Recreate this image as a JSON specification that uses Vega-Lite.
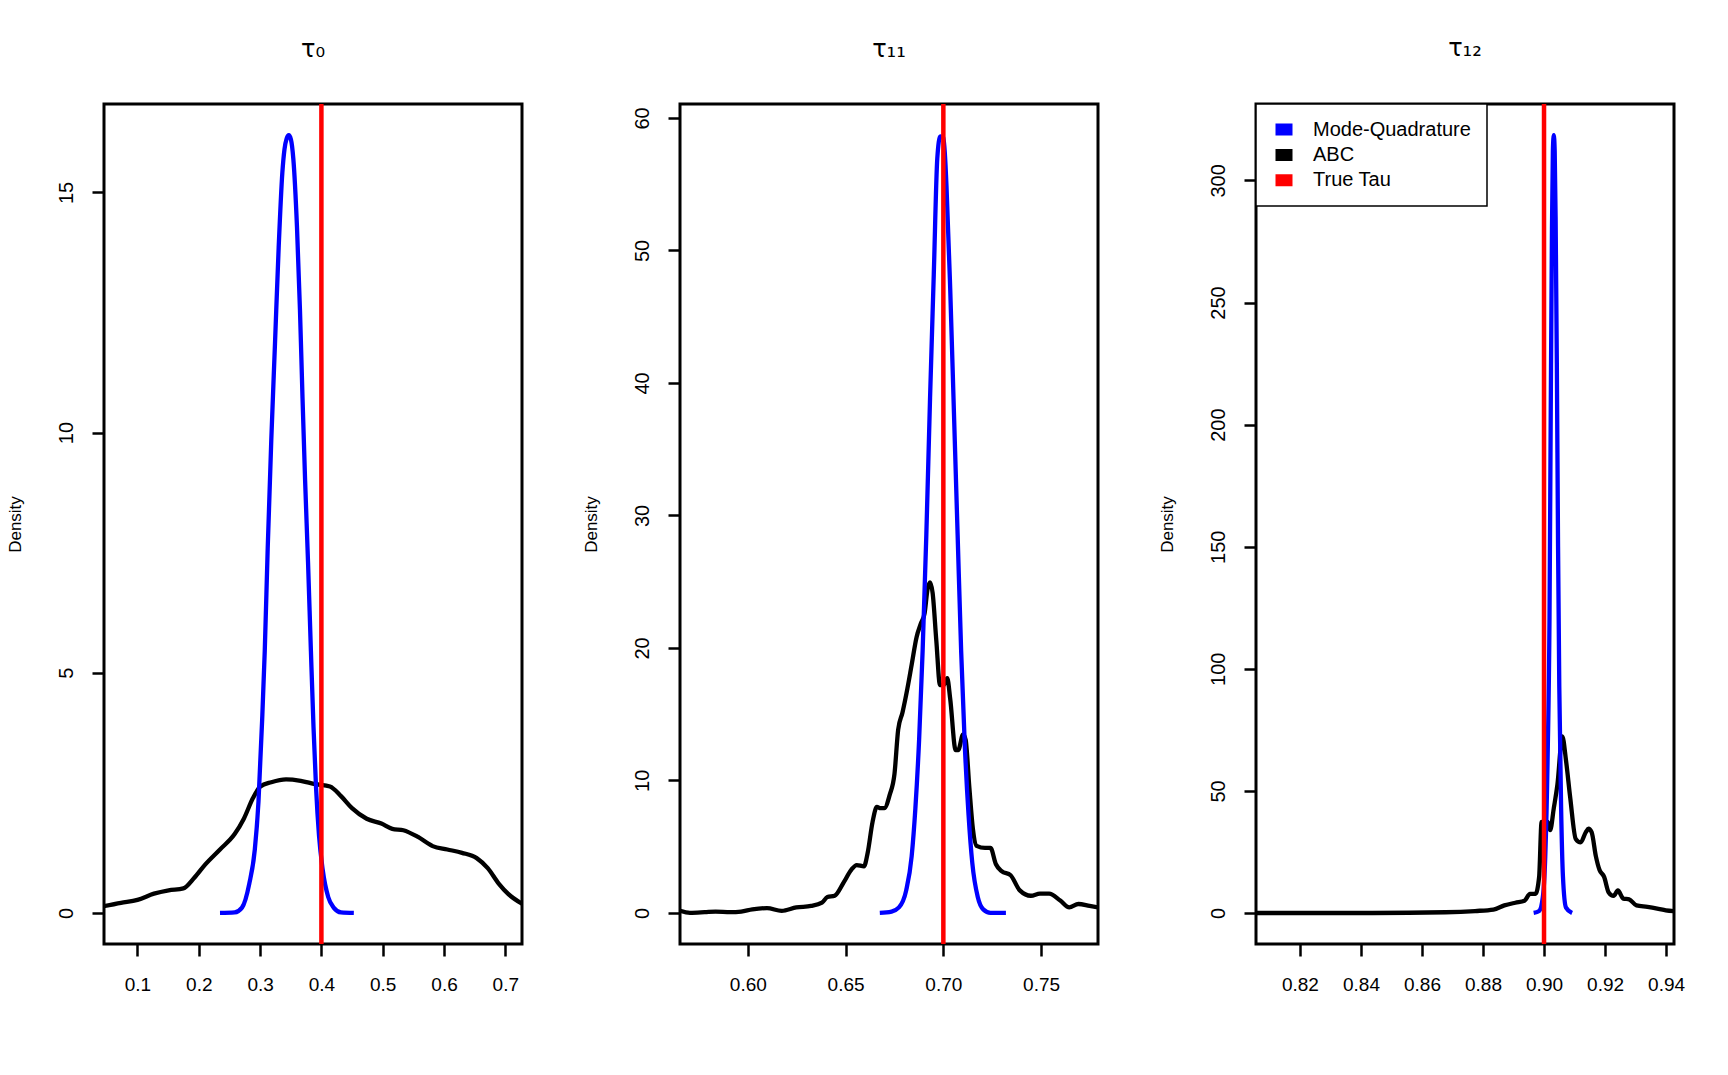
{
  "$schema": "https://vega.github.io/schema/vega-lite/v6.json",
  "padding": {"left": 4, "top": 35, "right": 5, "bottom": 5},
  "background": "white",
  "bounds": "flush",
  "spacing": 158,
  "resolve": {"scale": {"color": "independent"}, "legend": {"color": "independent"}},
  "config": {
    "font": "Liberation Sans",
    "view": {"stroke": "black", "strokeWidth": 3},
    "axis": {"domain": false, "grid": false, "tickColor": "black", "tickWidth": 2.5, "tickSize": 12, "labelColor": "black", "labelFont": "Liberation Sans", "labelFontSize": 19, "titleFont": "Liberation Sans", "titleFontSize": 17, "titleFontWeight": "normal", "titleColor": "black"},
    "axisX": {"labelPadding": 19, "labelFlush": false, "labelOverlap": false},
    "axisY": {"labelAngle": -90, "labelAlign": "center", "labelBaseline": "bottom", "labelPadding": 16, "titlePadding": 32, "labelFontSize": 20},
    "title": {"font": "DejaVu Sans", "fontSize": 24, "fontWeight": "normal", "color": "black", "baseline": "alphabetic", "offset": 42, "anchor": "middle"},
    "legend": {"strokeColor": "black", "strokeWidth": 1.5, "fillColor": "white", "padding": 15.5, "symbolOffset": 2.5, "labelOffset": 19, "rowPadding": 5.4, "clipHeight": 20, "labelFontSize": 20, "labelFont": "Liberation Sans", "labelColor": "black", "labelLimit": 400, "symbolType": "M-1,-0.444H1V0.444H-1Z", "symbolStrokeWidth": 8, "symbolSize": 81}
  },
  "datasets": {
    "curves": [
      {"panel": "t0", "series": "Mode-Quadrature", "x": 0.2346, "y": 0},
      {"panel": "t0", "series": "Mode-Quadrature", "x": 0.2585, "y": 0.01},
      {"panel": "t0", "series": "Mode-Quadrature", "x": 0.2705, "y": 0.11},
      {"panel": "t0", "series": "Mode-Quadrature", "x": 0.2824, "y": 0.61},
      {"panel": "t0", "series": "Mode-Quadrature", "x": 0.2914, "y": 1.32},
      {"panel": "t0", "series": "Mode-Quadrature", "x": 0.2974, "y": 2.32},
      {"panel": "t0", "series": "Mode-Quadrature", "x": 0.3034, "y": 4.03},
      {"panel": "t0", "series": "Mode-Quadrature", "x": 0.3076, "y": 5.45},
      {"panel": "t0", "series": "Mode-Quadrature", "x": 0.3124, "y": 7.58},
      {"panel": "t0", "series": "Mode-Quadrature", "x": 0.3183, "y": 9.86},
      {"panel": "t0", "series": "Mode-Quadrature", "x": 0.3243, "y": 11.85},
      {"panel": "t0", "series": "Mode-Quadrature", "x": 0.3303, "y": 13.85},
      {"panel": "t0", "series": "Mode-Quadrature", "x": 0.3363, "y": 15.41},
      {"panel": "t0", "series": "Mode-Quadrature", "x": 0.3398, "y": 15.9},
      {"panel": "t0", "series": "Mode-Quadrature", "x": 0.3433, "y": 16.12},
      {"panel": "t0", "series": "Mode-Quadrature", "x": 0.3468, "y": 16.19},
      {"panel": "t0", "series": "Mode-Quadrature", "x": 0.3503, "y": 16.1},
      {"panel": "t0", "series": "Mode-Quadrature", "x": 0.3542, "y": 15.7},
      {"panel": "t0", "series": "Mode-Quadrature", "x": 0.3602, "y": 14.27},
      {"panel": "t0", "series": "Mode-Quadrature", "x": 0.365, "y": 12.57},
      {"panel": "t0", "series": "Mode-Quadrature", "x": 0.3692, "y": 10.72},
      {"panel": "t0", "series": "Mode-Quadrature", "x": 0.3734, "y": 9.01},
      {"panel": "t0", "series": "Mode-Quadrature", "x": 0.3782, "y": 7.3},
      {"panel": "t0", "series": "Mode-Quadrature", "x": 0.3829, "y": 5.45},
      {"panel": "t0", "series": "Mode-Quadrature", "x": 0.3871, "y": 3.88},
      {"panel": "t0", "series": "Mode-Quadrature", "x": 0.3913, "y": 2.6},
      {"panel": "t0", "series": "Mode-Quadrature", "x": 0.3961, "y": 1.61},
      {"panel": "t0", "series": "Mode-Quadrature", "x": 0.4021, "y": 0.9},
      {"panel": "t0", "series": "Mode-Quadrature", "x": 0.4111, "y": 0.33},
      {"panel": "t0", "series": "Mode-Quadrature", "x": 0.42, "y": 0.11},
      {"panel": "t0", "series": "Mode-Quadrature", "x": 0.432, "y": 0.01},
      {"panel": "t0", "series": "Mode-Quadrature", "x": 0.4529, "y": 0},
      {"panel": "t0", "series": "ABC", "x": 0.045, "y": 0.14},
      {"panel": "t0", "series": "ABC", "x": 0.0731, "y": 0.21},
      {"panel": "t0", "series": "ABC", "x": 0.1, "y": 0.27},
      {"panel": "t0", "series": "ABC", "x": 0.1269, "y": 0.4},
      {"panel": "t0", "series": "ABC", "x": 0.1508, "y": 0.47},
      {"panel": "t0", "series": "ABC", "x": 0.1748, "y": 0.51},
      {"panel": "t0", "series": "ABC", "x": 0.1927, "y": 0.73},
      {"panel": "t0", "series": "ABC", "x": 0.2107, "y": 1.01},
      {"panel": "t0", "series": "ABC", "x": 0.2346, "y": 1.32},
      {"panel": "t0", "series": "ABC", "x": 0.2585, "y": 1.64},
      {"panel": "t0", "series": "ABC", "x": 0.2735, "y": 1.96},
      {"panel": "t0", "series": "ABC", "x": 0.2884, "y": 2.39},
      {"panel": "t0", "series": "ABC", "x": 0.3004, "y": 2.63},
      {"panel": "t0", "series": "ABC", "x": 0.3183, "y": 2.72},
      {"panel": "t0", "series": "ABC", "x": 0.3423, "y": 2.78},
      {"panel": "t0", "series": "ABC", "x": 0.3662, "y": 2.75},
      {"panel": "t0", "series": "ABC", "x": 0.3901, "y": 2.68},
      {"panel": "t0", "series": "ABC", "x": 0.414, "y": 2.63},
      {"panel": "t0", "series": "ABC", "x": 0.432, "y": 2.43},
      {"panel": "t0", "series": "ABC", "x": 0.4499, "y": 2.18},
      {"panel": "t0", "series": "ABC", "x": 0.4739, "y": 1.96},
      {"panel": "t0", "series": "ABC", "x": 0.4978, "y": 1.86},
      {"panel": "t0", "series": "ABC", "x": 0.5157, "y": 1.75},
      {"panel": "t0", "series": "ABC", "x": 0.5337, "y": 1.72},
      {"panel": "t0", "series": "ABC", "x": 0.5576, "y": 1.58},
      {"panel": "t0", "series": "ABC", "x": 0.5815, "y": 1.39},
      {"panel": "t0", "series": "ABC", "x": 0.6055, "y": 1.32},
      {"panel": "t0", "series": "ABC", "x": 0.6294, "y": 1.25},
      {"panel": "t0", "series": "ABC", "x": 0.6533, "y": 1.14},
      {"panel": "t0", "series": "ABC", "x": 0.6713, "y": 0.93},
      {"panel": "t0", "series": "ABC", "x": 0.6892, "y": 0.61},
      {"panel": "t0", "series": "ABC", "x": 0.7042, "y": 0.4},
      {"panel": "t0", "series": "ABC", "x": 0.7272, "y": 0.19},

      {"panel": "t11", "series": "Mode-Quadrature", "x": 0.6675, "y": 0},
      {"panel": "t11", "series": "Mode-Quadrature", "x": 0.6735, "y": 0.1},
      {"panel": "t11", "series": "Mode-Quadrature", "x": 0.6773, "y": 0.41},
      {"panel": "t11", "series": "Mode-Quadrature", "x": 0.681, "y": 1.7},
      {"panel": "t11", "series": "Mode-Quadrature", "x": 0.6838, "y": 4.28},
      {"panel": "t11", "series": "Mode-Quadrature", "x": 0.6857, "y": 7.9},
      {"panel": "t11", "series": "Mode-Quadrature", "x": 0.6876, "y": 13.06},
      {"panel": "t11", "series": "Mode-Quadrature", "x": 0.6894, "y": 19.77},
      {"panel": "t11", "series": "Mode-Quadrature", "x": 0.6913, "y": 28.55},
      {"panel": "t11", "series": "Mode-Quadrature", "x": 0.6932, "y": 38.87},
      {"panel": "t11", "series": "Mode-Quadrature", "x": 0.6951, "y": 48.17},
      {"panel": "t11", "series": "Mode-Quadrature", "x": 0.6969, "y": 56.94},
      {"panel": "t11", "series": "Mode-Quadrature", "x": 0.6984, "y": 58.6},
      {"panel": "t11", "series": "Mode-Quadrature", "x": 0.7001, "y": 58.49},
      {"panel": "t11", "series": "Mode-Quadrature", "x": 0.7016, "y": 54.88},
      {"panel": "t11", "series": "Mode-Quadrature", "x": 0.7035, "y": 47.13},
      {"panel": "t11", "series": "Mode-Quadrature", "x": 0.7054, "y": 37.84},
      {"panel": "t11", "series": "Mode-Quadrature", "x": 0.7073, "y": 28.55},
      {"panel": "t11", "series": "Mode-Quadrature", "x": 0.7091, "y": 19.77},
      {"panel": "t11", "series": "Mode-Quadrature", "x": 0.711, "y": 12.55},
      {"panel": "t11", "series": "Mode-Quadrature", "x": 0.7129, "y": 7.38},
      {"panel": "t11", "series": "Mode-Quadrature", "x": 0.7148, "y": 3.77},
      {"panel": "t11", "series": "Mode-Quadrature", "x": 0.7176, "y": 1.19},
      {"panel": "t11", "series": "Mode-Quadrature", "x": 0.7204, "y": 0.26},
      {"panel": "t11", "series": "Mode-Quadrature", "x": 0.7241, "y": 0},
      {"panel": "t11", "series": "Mode-Quadrature", "x": 0.732, "y": 0},
      {"panel": "t11", "series": "ABC", "x": 0.5653, "y": 0.15},
      {"panel": "t11", "series": "ABC", "x": 0.5704, "y": 0},
      {"panel": "t11", "series": "ABC", "x": 0.5779, "y": 0.05},
      {"panel": "t11", "series": "ABC", "x": 0.5835, "y": 0.1},
      {"panel": "t11", "series": "ABC", "x": 0.591, "y": 0.05},
      {"panel": "t11", "series": "ABC", "x": 0.5966, "y": 0.1},
      {"panel": "t11", "series": "ABC", "x": 0.6023, "y": 0.26},
      {"panel": "t11", "series": "ABC", "x": 0.6098, "y": 0.36},
      {"panel": "t11", "series": "ABC", "x": 0.6173, "y": 0.15},
      {"panel": "t11", "series": "ABC", "x": 0.6248, "y": 0.41},
      {"panel": "t11", "series": "ABC", "x": 0.6323, "y": 0.52},
      {"panel": "t11", "series": "ABC", "x": 0.6379, "y": 0.77},
      {"panel": "t11", "series": "ABC", "x": 0.6407, "y": 1.19},
      {"panel": "t11", "series": "ABC", "x": 0.6444, "y": 1.29},
      {"panel": "t11", "series": "ABC", "x": 0.6491, "y": 2.32},
      {"panel": "t11", "series": "ABC", "x": 0.6529, "y": 3.25},
      {"panel": "t11", "series": "ABC", "x": 0.6557, "y": 3.61},
      {"panel": "t11", "series": "ABC", "x": 0.6594, "y": 3.51},
      {"panel": "t11", "series": "ABC", "x": 0.6613, "y": 4.54},
      {"panel": "t11", "series": "ABC", "x": 0.6638, "y": 6.87},
      {"panel": "t11", "series": "ABC", "x": 0.666, "y": 8.0},
      {"panel": "t11", "series": "ABC", "x": 0.6679, "y": 7.9},
      {"panel": "t11", "series": "ABC", "x": 0.6698, "y": 7.9},
      {"panel": "t11", "series": "ABC", "x": 0.6726, "y": 8.93},
      {"panel": "t11", "series": "ABC", "x": 0.675, "y": 10.48},
      {"panel": "t11", "series": "ABC", "x": 0.6769, "y": 13.84},
      {"panel": "t11", "series": "ABC", "x": 0.6791, "y": 15.13},
      {"panel": "t11", "series": "ABC", "x": 0.6816, "y": 16.93},
      {"panel": "t11", "series": "ABC", "x": 0.6838, "y": 18.74},
      {"panel": "t11", "series": "ABC", "x": 0.6863, "y": 20.81},
      {"panel": "t11", "series": "ABC", "x": 0.6885, "y": 21.84},
      {"panel": "t11", "series": "ABC", "x": 0.6904, "y": 22.61},
      {"panel": "t11", "series": "ABC", "x": 0.6919, "y": 24.42},
      {"panel": "t11", "series": "ABC", "x": 0.6932, "y": 24.94},
      {"panel": "t11", "series": "ABC", "x": 0.6945, "y": 24.16},
      {"panel": "t11", "series": "ABC", "x": 0.6964, "y": 20.55},
      {"panel": "t11", "series": "ABC", "x": 0.6983, "y": 17.19},
      {"panel": "t11", "series": "ABC", "x": 0.7001, "y": 17.19},
      {"panel": "t11", "series": "ABC", "x": 0.702, "y": 17.71},
      {"panel": "t11", "series": "ABC", "x": 0.7035, "y": 16.16},
      {"panel": "t11", "series": "ABC", "x": 0.7063, "y": 12.29},
      {"panel": "t11", "series": "ABC", "x": 0.7076, "y": 12.29},
      {"panel": "t11", "series": "ABC", "x": 0.7101, "y": 13.47},
      {"panel": "t11", "series": "ABC", "x": 0.7114, "y": 13.06},
      {"panel": "t11", "series": "ABC", "x": 0.7133, "y": 9.45},
      {"panel": "t11", "series": "ABC", "x": 0.7151, "y": 6.35},
      {"panel": "t11", "series": "ABC", "x": 0.717, "y": 5.06},
      {"panel": "t11", "series": "ABC", "x": 0.7213, "y": 4.9},
      {"panel": "t11", "series": "ABC", "x": 0.7241, "y": 4.9},
      {"panel": "t11", "series": "ABC", "x": 0.7269, "y": 3.67},
      {"panel": "t11", "series": "ABC", "x": 0.7298, "y": 3.15},
      {"panel": "t11", "series": "ABC", "x": 0.7344, "y": 2.84},
      {"panel": "t11", "series": "ABC", "x": 0.7391, "y": 1.7},
      {"panel": "t11", "series": "ABC", "x": 0.7448, "y": 1.29},
      {"panel": "t11", "series": "ABC", "x": 0.7494, "y": 1.45},
      {"panel": "t11", "series": "ABC", "x": 0.7541, "y": 1.45},
      {"panel": "t11", "series": "ABC", "x": 0.7598, "y": 0.93},
      {"panel": "t11", "series": "ABC", "x": 0.7644, "y": 0.41},
      {"panel": "t11", "series": "ABC", "x": 0.7691, "y": 0.67},
      {"panel": "t11", "series": "ABC", "x": 0.7748, "y": 0.52},
      {"panel": "t11", "series": "ABC", "x": 0.7791, "y": 0.41},

      {"panel": "t12", "series": "Mode-Quadrature", "x": 0.8966, "y": 0},
      {"panel": "t12", "series": "Mode-Quadrature", "x": 0.8984, "y": 0.8},
      {"panel": "t12", "series": "Mode-Quadrature", "x": 0.8996, "y": 6.4},
      {"panel": "t12", "series": "Mode-Quadrature", "x": 0.9004, "y": 23},
      {"panel": "t12", "series": "Mode-Quadrature", "x": 0.9012, "y": 65},
      {"panel": "t12", "series": "Mode-Quadrature", "x": 0.9018, "y": 121},
      {"panel": "t12", "series": "Mode-Quadrature", "x": 0.9022, "y": 205},
      {"panel": "t12", "series": "Mode-Quadrature", "x": 0.9026, "y": 280},
      {"panel": "t12", "series": "Mode-Quadrature", "x": 0.9029, "y": 312},
      {"panel": "t12", "series": "Mode-Quadrature", "x": 0.9032, "y": 318.5},
      {"panel": "t12", "series": "Mode-Quadrature", "x": 0.9035, "y": 312},
      {"panel": "t12", "series": "Mode-Quadrature", "x": 0.9038, "y": 285},
      {"panel": "t12", "series": "Mode-Quadrature", "x": 0.9042, "y": 225},
      {"panel": "t12", "series": "Mode-Quadrature", "x": 0.9046, "y": 150},
      {"panel": "t12", "series": "Mode-Quadrature", "x": 0.905, "y": 93},
      {"panel": "t12", "series": "Mode-Quadrature", "x": 0.9056, "y": 43},
      {"panel": "t12", "series": "Mode-Quadrature", "x": 0.9062, "y": 15},
      {"panel": "t12", "series": "Mode-Quadrature", "x": 0.9072, "y": 2.2},
      {"panel": "t12", "series": "Mode-Quadrature", "x": 0.9092, "y": 0},
      {"panel": "t12", "series": "ABC", "x": 0.8056, "y": 0},
      {"panel": "t12", "series": "ABC", "x": 0.8196, "y": 0},
      {"panel": "t12", "series": "ABC", "x": 0.8437, "y": 0},
      {"panel": "t12", "series": "ABC", "x": 0.8677, "y": 0.3},
      {"panel": "t12", "series": "ABC", "x": 0.8774, "y": 0.8},
      {"panel": "t12", "series": "ABC", "x": 0.8834, "y": 1.4},
      {"panel": "t12", "series": "ABC", "x": 0.887, "y": 3.1},
      {"panel": "t12", "series": "ABC", "x": 0.8906, "y": 4.2},
      {"panel": "t12", "series": "ABC", "x": 0.8936, "y": 5.0},
      {"panel": "t12", "series": "ABC", "x": 0.8954, "y": 7.8},
      {"panel": "t12", "series": "ABC", "x": 0.8972, "y": 7.8},
      {"panel": "t12", "series": "ABC", "x": 0.8984, "y": 14.8},
      {"panel": "t12", "series": "ABC", "x": 0.8992, "y": 37.3},
      {"panel": "t12", "series": "ABC", "x": 0.9002, "y": 35.9},
      {"panel": "t12", "series": "ABC", "x": 0.9012, "y": 37.3},
      {"panel": "t12", "series": "ABC", "x": 0.902, "y": 33.9},
      {"panel": "t12", "series": "ABC", "x": 0.9032, "y": 42.9},
      {"panel": "t12", "series": "ABC", "x": 0.9044, "y": 52.7},
      {"panel": "t12", "series": "ABC", "x": 0.906, "y": 72.3},
      {"panel": "t12", "series": "ABC", "x": 0.9072, "y": 62.5},
      {"panel": "t12", "series": "ABC", "x": 0.9086, "y": 47.1},
      {"panel": "t12", "series": "ABC", "x": 0.9104, "y": 30.3},
      {"panel": "t12", "series": "ABC", "x": 0.912, "y": 28.9},
      {"panel": "t12", "series": "ABC", "x": 0.9137, "y": 33.1},
      {"panel": "t12", "series": "ABC", "x": 0.9146, "y": 34.5},
      {"panel": "t12", "series": "ABC", "x": 0.9156, "y": 33.1},
      {"panel": "t12", "series": "ABC", "x": 0.917, "y": 23.2},
      {"panel": "t12", "series": "ABC", "x": 0.9182, "y": 17.6},
      {"panel": "t12", "series": "ABC", "x": 0.9197, "y": 14.8},
      {"panel": "t12", "series": "ABC", "x": 0.9212, "y": 8.4},
      {"panel": "t12", "series": "ABC", "x": 0.9228, "y": 7.0},
      {"panel": "t12", "series": "ABC", "x": 0.9242, "y": 9.2},
      {"panel": "t12", "series": "ABC", "x": 0.926, "y": 5.9},
      {"panel": "t12", "series": "ABC", "x": 0.9279, "y": 5.6},
      {"panel": "t12", "series": "ABC", "x": 0.9303, "y": 3.1},
      {"panel": "t12", "series": "ABC", "x": 0.9339, "y": 2.5},
      {"panel": "t12", "series": "ABC", "x": 0.9375, "y": 1.7},
      {"panel": "t12", "series": "ABC", "x": 0.9399, "y": 1.1},
      {"panel": "t12", "series": "ABC", "x": 0.9426, "y": 0.8}
    ],
    "truth": [
      {"panel": "t0", "series": "True Tau", "x": 0.4},
      {"panel": "t11", "series": "True Tau", "x": 0.7},
      {"panel": "t12", "series": "True Tau", "x": 0.9}
    ]
  },
  "hconcat": [
    {
      "width": 418, "height": 840,
      "title": {"text": "τ₀"},
      "layer": [
        {"mark": {"type": "rule", "color": "#e3e3e3", "strokeWidth": 1}, "encoding": {"y": {"datum": 0, "type": "quantitative"}}},
        {
          "data": {"name": "curves"},
          "transform": [{"filter": "datum.panel === 't0' && datum.series === 'ABC'"}],
          "mark": {"type": "line", "strokeWidth": 4.3, "clip": true, "interpolate": "monotone"},
          "encoding": {
            "x": {"field": "x", "type": "quantitative", "scale": {"domain": [0.0454, 0.7272], "nice": false, "zero": false}, "axis": {"values": [0.1, 0.2, 0.3, 0.4, 0.5, 0.6, 0.7], "format": ".1f", "title": null}},
            "y": {"field": "y", "type": "quantitative", "scale": {"domain": [-0.648, 16.84], "nice": false, "zero": false}, "axis": {"values": [0, 5, 10, 15], "title": "Density"}},
            "color": {"field": "series", "type": "nominal", "scale": {"domain": ["Mode-Quadrature", "ABC", "True Tau"], "range": ["#0000FF", "#000000", "#FF0000"]}, "legend": null}
          }
        },
        {
          "data": {"name": "curves"},
          "transform": [{"filter": "datum.panel === 't0' && datum.series === 'Mode-Quadrature'"}],
          "mark": {"type": "line", "strokeWidth": 4.3, "clip": true, "interpolate": "monotone"},
          "encoding": {
            "x": {"field": "x", "type": "quantitative"},
            "y": {"field": "y", "type": "quantitative"},
            "color": {"field": "series", "type": "nominal", "legend": null}
          }
        },
        {
          "data": {"name": "truth"},
          "transform": [{"filter": "datum.panel === 't0'"}],
          "mark": {"type": "rule", "strokeWidth": 4.5, "clip": true},
          "encoding": {
            "x": {"field": "x", "type": "quantitative"},
            "color": {"field": "series", "type": "nominal", "legend": null}
          }
        }
      ]
    },
    {
      "width": 418, "height": 840,
      "title": {"text": "τ₁₁"},
      "layer": [
        {"mark": {"type": "rule", "color": "#e3e3e3", "strokeWidth": 1}, "encoding": {"y": {"datum": 0, "type": "quantitative"}}},
        {
          "data": {"name": "curves"},
          "transform": [{"filter": "datum.panel === 't11' && datum.series === 'ABC'"}],
          "mark": {"type": "line", "strokeWidth": 4.3, "clip": true, "interpolate": "monotone"},
          "encoding": {
            "x": {"field": "x", "type": "quantitative", "scale": {"domain": [0.5653, 0.7791], "nice": false, "zero": false}, "axis": {"values": [0.6, 0.65, 0.7, 0.75], "format": ".2f", "title": null}},
            "y": {"field": "y", "type": "quantitative", "scale": {"domain": [-2.35, 61.05], "nice": false, "zero": false}, "axis": {"values": [0, 10, 20, 30, 40, 50, 60], "title": "Density"}},
            "color": {"field": "series", "type": "nominal", "scale": {"domain": ["Mode-Quadrature", "ABC", "True Tau"], "range": ["#0000FF", "#000000", "#FF0000"]}, "legend": null}
          }
        },
        {
          "data": {"name": "curves"},
          "transform": [{"filter": "datum.panel === 't11' && datum.series === 'Mode-Quadrature'"}],
          "mark": {"type": "line", "strokeWidth": 4.3, "clip": true, "interpolate": "monotone"},
          "encoding": {
            "x": {"field": "x", "type": "quantitative"},
            "y": {"field": "y", "type": "quantitative"},
            "color": {"field": "series", "type": "nominal", "legend": null}
          }
        },
        {
          "data": {"name": "truth"},
          "transform": [{"filter": "datum.panel === 't11'"}],
          "mark": {"type": "rule", "strokeWidth": 4.5, "clip": true},
          "encoding": {
            "x": {"field": "x", "type": "quantitative"},
            "color": {"field": "series", "type": "nominal", "legend": null}
          }
        }
      ]
    },
    {
      "width": 418, "height": 840,
      "title": {"text": "τ₁₂"},
      "layer": [
        {"mark": {"type": "rule", "color": "#e3e3e3", "strokeWidth": 1}, "encoding": {"y": {"datum": 0, "type": "quantitative"}}},
        {
          "data": {"name": "curves"},
          "transform": [{"filter": "datum.panel === 't12' && datum.series === 'ABC'"}],
          "mark": {"type": "line", "strokeWidth": 4.3, "clip": true, "interpolate": "monotone"},
          "encoding": {
            "x": {"field": "x", "type": "quantitative", "scale": {"domain": [0.8056, 0.9426], "nice": false, "zero": false}, "axis": {"values": [0.82, 0.84, 0.86, 0.88, 0.9, 0.92, 0.94], "format": ".2f", "title": null}},
            "y": {"field": "y", "type": "quantitative", "scale": {"domain": [-12.7, 331.3], "nice": false, "zero": false}, "axis": {"values": [0, 50, 100, 150, 200, 250, 300], "title": "Density"}},
            "color": {"field": "series", "type": "nominal", "scale": {"domain": ["Mode-Quadrature", "ABC", "True Tau"], "range": ["#0000FF", "#000000", "#FF0000"]}, "legend": {"title": null, "orient": "none", "legendX": 0, "legendY": 0}}
          }
        },
        {
          "data": {"name": "curves"},
          "transform": [{"filter": "datum.panel === 't12' && datum.series === 'Mode-Quadrature'"}],
          "mark": {"type": "line", "strokeWidth": 4.3, "clip": true, "interpolate": "monotone"},
          "encoding": {
            "x": {"field": "x", "type": "quantitative"},
            "y": {"field": "y", "type": "quantitative"},
            "color": {"field": "series", "type": "nominal", "legend": {"title": null, "orient": "none", "legendX": 0, "legendY": 0}}
          }
        },
        {
          "data": {"name": "truth"},
          "transform": [{"filter": "datum.panel === 't12'"}],
          "mark": {"type": "rule", "strokeWidth": 4.5, "clip": true},
          "encoding": {
            "x": {"field": "x", "type": "quantitative"},
            "color": {"field": "series", "type": "nominal", "legend": {"title": null, "orient": "none", "legendX": 0, "legendY": 0}}
          }
        }
      ]
    }
  ]
}
